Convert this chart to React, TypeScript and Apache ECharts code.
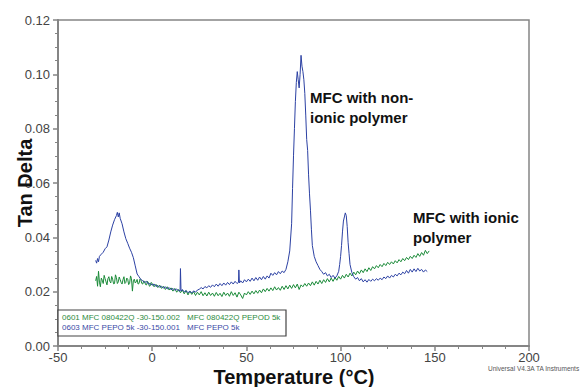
import React, { useEffect, useRef } from "react";
import * as echarts from "echarts";

// Temperature (°C) and tan delta (x 1e-3)
const bluePEPO: [number, number][] = [
  [-30, 31.5], [-29.5, 30.5], [-29, 32.2], [-28.5, 31.0], [-28, 33.0], [-27, 33.8], [-26, 34.5], [-25, 35.8],
  [-24, 36.5], [-23, 39.0], [-22, 42.0], [-21, 44.5], [-20, 46.5], [-19, 48.0], [-18.5, 49.2], [-18, 47.5],
  [-17.5, 49.0], [-17, 47.0], [-16, 45.0], [-15, 42.0], [-14, 39.5], [-13, 37.8], [-12, 36.0], [-11, 34.5],
  [-10, 32.5], [-9, 29.5], [-8, 26.5], [-7, 25.5], [-6, 24.5], [-5, 24.0], [-4, 23.4], [-3, 23.8],
  [-2, 22.8], [-1, 23.0], [0, 22.4], [1, 22.8], [2, 21.9], [3, 22.3], [4, 21.6], [5, 22.0],
  [6, 21.3], [7, 21.8], [8, 21.0], [9, 21.5], [10, 20.7], [11, 21.2], [12, 20.5], [13, 21.0],
  [14, 20.3], [14.8, 20.4], [15, 28.5], [15.3, 20.2], [16, 20.8], [17, 19.9], [18, 20.4], [19, 19.6],
  [20, 20.2], [21, 19.5], [22, 20.3], [23, 19.8], [24, 20.6], [25, 20.9], [26, 21.5], [27, 21.0],
  [28, 21.9], [29, 21.4], [30, 22.2], [31, 21.6], [32, 22.5], [33, 21.8], [34, 22.8], [35, 22.0],
  [36, 23.0], [37, 22.2], [38, 23.2], [39, 22.4], [40, 23.4], [41, 22.6], [42, 23.6], [43, 22.8],
  [44, 23.8], [45, 23.0], [45.8, 23.4], [46, 28.0], [46.3, 23.2], [47, 24.0], [48, 23.2], [49, 24.4],
  [50, 23.6], [51, 24.6], [52, 23.8], [53, 25.0], [54, 24.0], [55, 25.2], [56, 24.2], [57, 25.4],
  [58, 24.4], [59, 25.6], [60, 24.6], [61, 25.8], [62, 25.0], [63, 26.8], [64, 26.0], [65, 27.0],
  [66, 26.2], [67, 27.4], [68, 26.6], [69, 27.6], [70, 27.0], [71, 28.2], [72, 31.0], [73, 35.0],
  [74, 45.0], [74.5, 58.0], [75, 70.0], [75.5, 80.0], [76, 90.0], [76.5, 97.0], [77, 101.0], [77.5, 98.0],
  [78, 95.0], [78.5, 100.0], [79, 107.0], [79.5, 103.0], [80, 101.0], [80.5, 98.0], [81, 93.0], [81.5, 85.0],
  [82, 76.0], [82.5, 72.0], [83, 63.0], [83.5, 56.0], [84, 50.0], [84.5, 43.0], [85, 37.0], [86, 33.0],
  [87, 31.0], [88, 29.6], [89, 28.2], [90, 27.4], [91, 26.4], [92, 27.0], [93, 25.8], [94, 26.4],
  [95, 25.2], [96, 26.0], [97, 25.0], [98, 25.8], [99, 27.5], [99.5, 30.0], [100, 33.0], [100.5, 37.0],
  [101, 42.0], [101.5, 46.0], [102, 47.5], [102.5, 49.0], [103, 48.0], [103.5, 44.0], [104, 38.0], [104.5, 34.0],
  [105, 30.0], [106, 27.0], [107, 25.5], [108, 24.6], [109, 25.2], [110, 24.0], [111, 24.8], [112, 23.6],
  [113, 24.4], [114, 23.5], [115, 24.5], [116, 23.8], [117, 24.6], [118, 24.0], [119, 24.8], [120, 24.2],
  [121, 25.0], [122, 24.4], [123, 25.4], [124, 24.8], [125, 25.8], [126, 25.0], [127, 26.0], [128, 25.4],
  [129, 26.4], [130, 25.8], [131, 26.8], [132, 26.2], [133, 27.2], [134, 26.6], [135, 27.8], [136, 26.8],
  [137, 28.2], [138, 27.2], [139, 28.4], [140, 27.4], [141, 28.6], [142, 27.6], [143, 28.2], [144, 27.2],
  [145, 28.0], [146, 27.4],
];

const greenPEPOD: [number, number][] = [
  [-30, 24.0], [-29.5, 25.6], [-29, 22.0], [-28.5, 27.5], [-28, 23.5], [-27.5, 21.8], [-27, 25.0], [-26.5, 24.2],
  [-26, 23.0], [-25.5, 26.0], [-25, 24.8], [-24.5, 23.6], [-24, 22.5], [-23.5, 24.8], [-23, 25.5], [-22.5, 23.8],
  [-22, 23.2], [-21.5, 25.6], [-21, 24.6], [-20.5, 22.9], [-20, 23.0], [-19.5, 26.2], [-19, 25.2], [-18.5, 23.0],
  [-18, 23.6], [-17.5, 25.4], [-17, 24.4], [-16.5, 23.4], [-16, 22.8], [-15.5, 24.4], [-15, 25.5], [-14.5, 23.0],
  [-14, 23.4], [-13.5, 25.0], [-13, 24.6], [-12.5, 22.6], [-12, 23.0], [-11.5, 25.8], [-11, 24.8], [-10.5, 20.2],
  [-10, 24.0], [-9.5, 24.6], [-9, 23.2], [-8.5, 23.6], [-8, 24.5], [-7.5, 22.8], [-7, 23.0], [-6.5, 24.6],
  [-6, 24.2], [-5.5, 23.0], [-5, 22.8], [-4.5, 24.0], [-4, 23.6], [-3.5, 22.6], [-3, 22.5], [-2.5, 23.8],
  [-2, 23.4], [-1.5, 22.0], [-1, 22.2], [-0.5, 23.4], [0, 23.0], [1, 21.8], [2, 22.7], [3, 21.5], [4, 22.4],
  [5, 21.2], [6, 22.0], [7, 20.8], [8, 21.8], [9, 20.6], [10, 21.4], [11, 20.2], [12, 21.2], [13, 19.8],
  [14, 20.8], [15, 19.6], [16, 20.6], [17, 19.2], [18, 20.4], [19, 18.8], [20, 20.2], [21, 19.0], [22, 20.0],
  [23, 18.6], [24, 19.8], [25, 18.8], [26, 20.0], [27, 18.5], [28, 19.6], [29, 18.4], [30, 19.8], [31, 18.6],
  [32, 19.5], [33, 18.3], [34, 19.7], [35, 18.5], [36, 19.4], [37, 18.2], [38, 19.8], [39, 18.6], [40, 19.5],
  [41, 18.3], [42, 20.0], [43, 18.6], [44, 19.6], [45, 18.0], [46, 19.8], [47, 18.8], [48, 17.5], [49, 19.5],
  [50, 18.8], [51, 20.0], [52, 19.0], [53, 20.2], [54, 19.2], [55, 20.4], [56, 19.4], [57, 20.6], [58, 19.6],
  [59, 21.0], [60, 20.0], [61, 21.2], [62, 20.2], [63, 21.4], [64, 20.4], [65, 21.8], [66, 20.6], [67, 21.5],
  [68, 20.5], [69, 22.0], [70, 20.8], [71, 22.2], [72, 21.0], [73, 22.4], [74, 21.2], [75, 22.6], [76, 21.4],
  [77, 22.8], [78, 20.8], [79, 22.5], [80, 21.8], [81, 23.0], [82, 22.0], [83, 23.2], [84, 22.2], [85, 23.6],
  [86, 22.4], [87, 23.8], [88, 22.8], [89, 24.2], [90, 23.0], [91, 24.4], [92, 23.4], [93, 24.8], [94, 23.6],
  [95, 25.0], [96, 23.8], [97, 25.2], [98, 24.2], [99, 25.6], [100, 24.6], [101, 26.0], [102, 25.0], [103, 26.4],
  [104, 25.4], [105, 26.8], [106, 25.8], [107, 27.2], [108, 26.2], [109, 27.6], [110, 26.6], [111, 28.0],
  [112, 27.0], [113, 28.4], [114, 27.4], [115, 28.8], [116, 27.8], [117, 29.2], [118, 28.4], [119, 29.6],
  [120, 28.8], [121, 30.0], [122, 29.2], [123, 30.4], [124, 29.6], [125, 30.8], [126, 30.0], [127, 31.0],
  [128, 30.2], [129, 31.4], [130, 30.6], [131, 31.8], [132, 31.0], [133, 32.2], [134, 31.4], [135, 32.6],
  [136, 31.8], [137, 33.0], [138, 32.2], [139, 33.4], [140, 32.6], [141, 34.0], [142, 33.0], [143, 34.4],
  [144, 33.4], [145, 35.2], [146, 34.0], [147, 35.0],
];

const xTicks = { min: -50, max: 200, interval: 50 };
const yTicks = { min: 0, max: 0.12, interval: 0.02 };

const xTitle = "Temperature (°C)";
const yTitle = "Tan Delta";

const legendLines = [
  { left: "0601 MFC 080422Q -30-150.002", right: "MFC 080422Q PEPOD 5k", color: "#2e8b3e" },
  { left: "0603 MFC PEPO 5k -30-150.001", right: "MFC PEPO 5k", color: "#3a4aa6" },
];

const annotations = [
  { x: 310, y: 87, text: "MFC with non-\nionic polymer" },
  { x: 413, y: 207, text: "MFC with ionic\npolymer" },
];

const BLUE = "#2c41a3";
const GREEN = "#1a8a38";
const FONT = "Liberation Sans, Arial, sans-serif";

export default function App() {
  const ref = useRef<HTMLDivElement>(null);
  useEffect(() => {
    if (!ref.current) return;
    document.body.style.margin = "0";
    const chart = echarts.init(ref.current, null, { renderer: "svg" });
    const scale = (d: [number, number][]) => d.map(([x, y]) => [x, y / 1000]);
    const axisLine = { show: true, onZero: false, lineStyle: { color: "#858585", width: 2 } };
    chart.setOption({
      animation: false,
      backgroundColor: "#ffffff",
      grid: {
        left: 58, right: 52, top: 20, bottom: 41,
        outerBoundsMode: "none",
        containLabel: false,
        show: true, borderColor: "#858585", borderWidth: 1.5, backgroundColor: "transparent",
      },
      xAxis: {
        type: "value",
        min: xTicks.min, max: xTicks.max, interval: xTicks.interval,
        axisLine,
        axisTick: { show: true, inside: false, length: 5, lineStyle: { color: "#858585", width: 1.5 } },
        minorTick: { show: true, splitNumber: 4, length: 3, lineStyle: { color: "#858585", width: 1 } },
        axisLabel: { margin: 5, fontFamily: FONT, fontSize: 13, color: "#444" },
        splitLine: { show: false },
      },
      yAxis: {
        type: "value",
        min: yTicks.min, max: yTicks.max, interval: yTicks.interval,
        axisLine,
        axisTick: { show: true, inside: false, length: 5, lineStyle: { color: "#858585", width: 1.5 } },
        minorTick: { show: true, splitNumber: 4, length: 3, lineStyle: { color: "#858585", width: 1 } },
        axisLabel: {
          margin: 8, fontFamily: FONT, fontSize: 13, color: "#444",
          formatter: (v: number) => v.toFixed(2),
        },
        splitLine: { show: false },
      },
      series: [
        {
          type: "line", name: "MFC 080422Q PEPOD 5k", data: scale(greenPEPOD),
          showSymbol: false, lineStyle: { color: GREEN, width: 1 }, z: 2,
        },
        {
          type: "line", name: "MFC PEPO 5k", data: scale(bluePEPO),
          showSymbol: false, lineStyle: { color: BLUE, width: 1 }, z: 3,
        },
      ],
      graphic: [
        {
          type: "text", z: 101, x: 294, y: 377,
          style: {
            text: xTitle, fill: "#111", font: `bold 20px ${FONT}`,
            align: "center", verticalAlign: "middle",
          },
        },
        {
          type: "text", z: 101, x: 25, y: 183, rotation: Math.PI / 2,
          style: {
            text: yTitle, fill: "#111", font: `bold 20px ${FONT}`,
            align: "center", verticalAlign: "middle",
          },
        },
        {
          type: "rect", z: 100,
          shape: { x: 58, y: 310, width: 228, height: 26 },
          style: { fill: "#ffffff", stroke: "#444", lineWidth: 1.2 },
        },
        ...legendLines.flatMap((l, i) => [
          {
            type: "text", z: 101, left: 62, top: 313 + i * 10,
            style: { text: l.left, fill: l.color, font: `8px ${FONT}` },
          },
          {
            type: "text", z: 101, left: 187, top: 313 + i * 10,
            style: { text: l.right, fill: l.color, font: `8px ${FONT}` },
          },
        ]),
        ...annotations.map((a) => ({
          type: "text", z: 101, x: a.x, y: a.y,
          style: { text: a.text, fill: "#111", font: `bold 15px ${FONT}`, lineHeight: 20 },
        })),
        {
          type: "text", z: 101, right: 1, top: 365,
          style: { text: "Universal V4.3A TA Instruments", fill: "#555", font: `6.5px ${FONT}` },
        },
      ],
    });
    return () => chart.dispose();
  }, []);
  return <div ref={ref} style={{ width: 581, height: 387 }} />;
}
